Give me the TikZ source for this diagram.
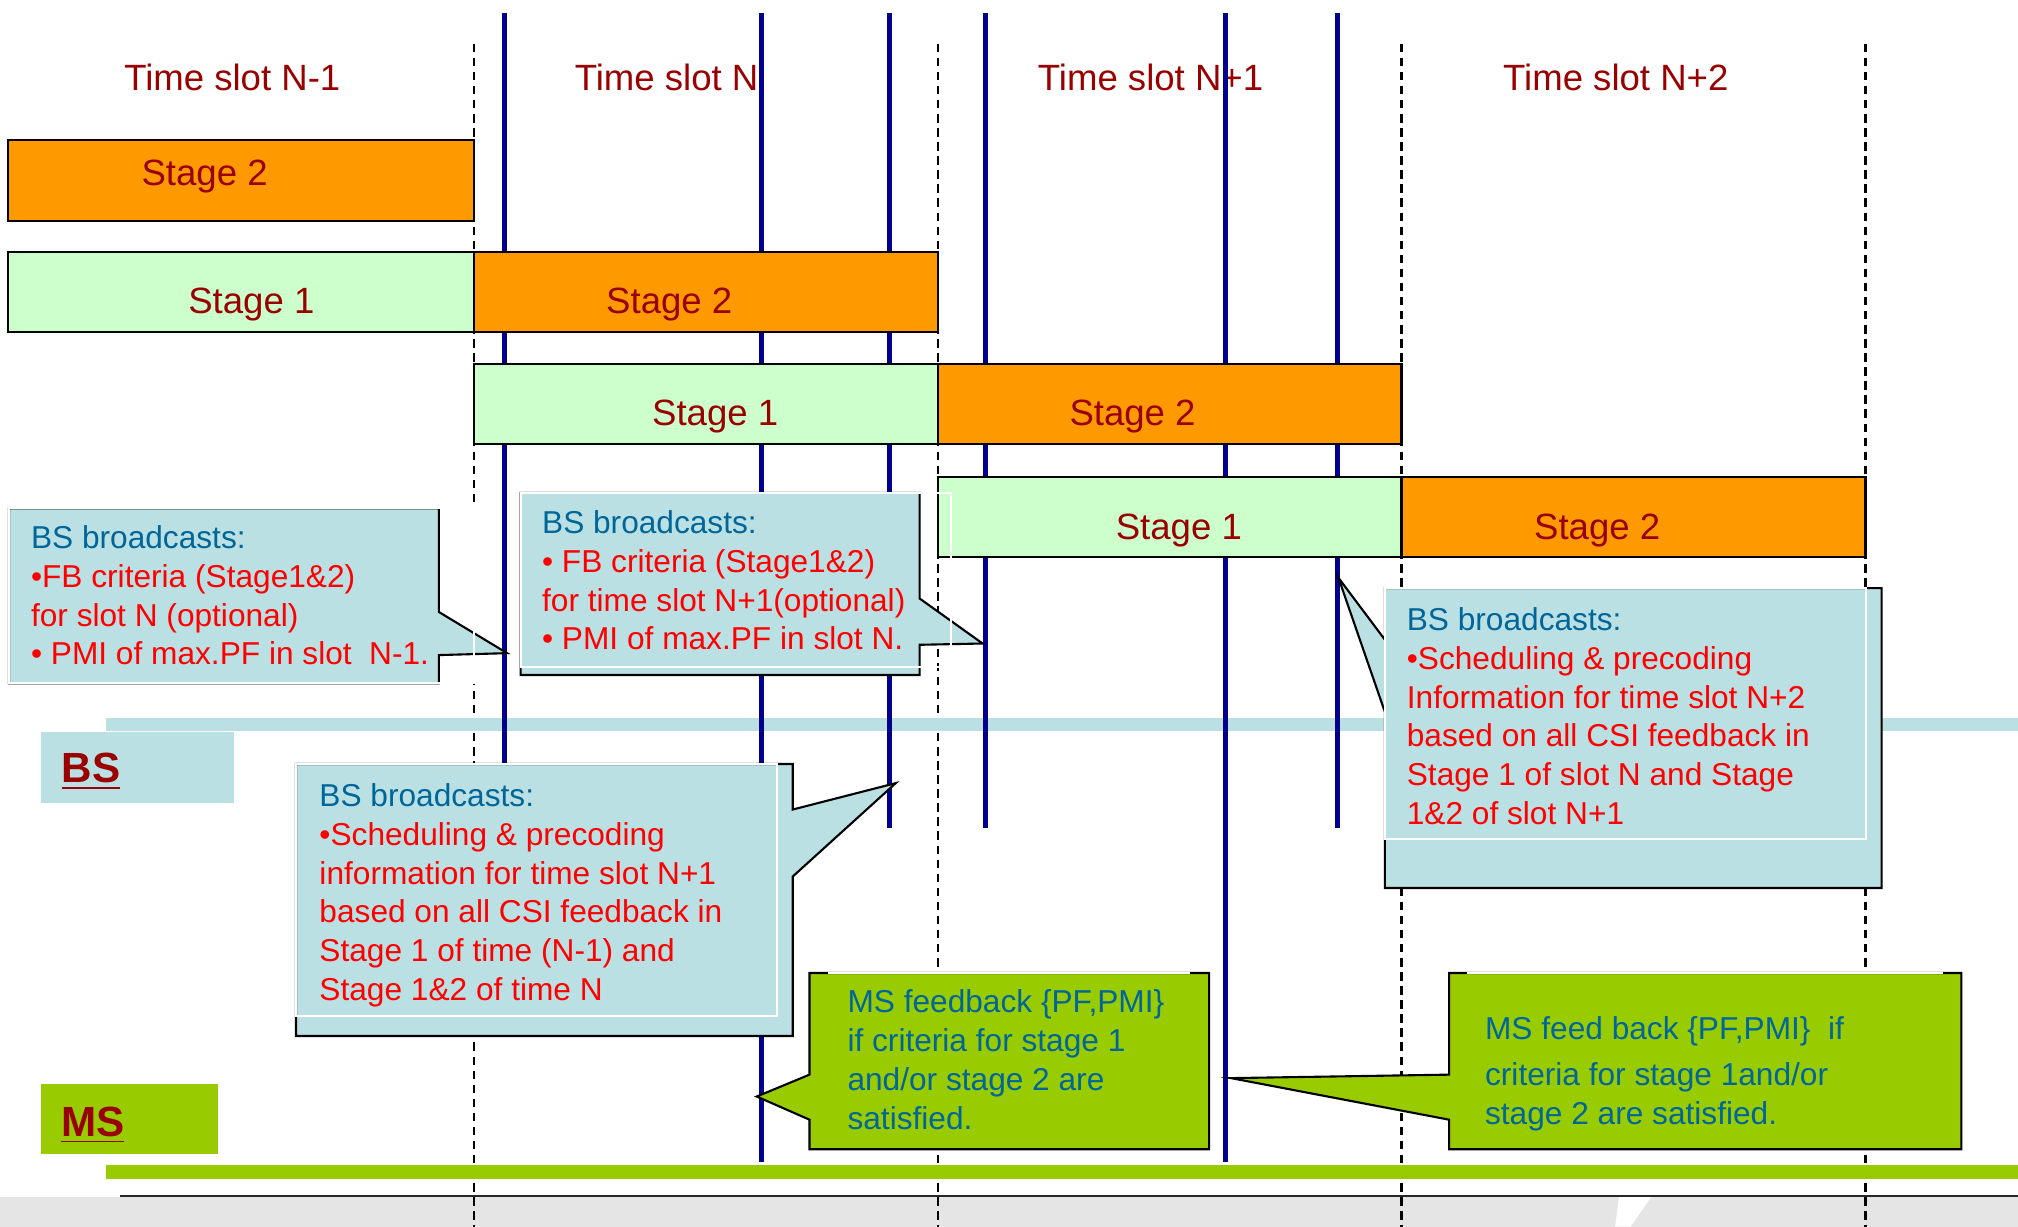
\documentclass[tikz,border=0pt]{standalone}
\usepackage{fontspec}
\setmainfont{Liberation Sans}
\definecolor{slotred}{RGB}{153,0,0}
\definecolor{slotnavy}{RGB}{0,0,140}
\definecolor{stageorange}{RGB}{255,153,0}
\definecolor{stagegreen}{RGB}{204,255,204}
\definecolor{bsfill}{RGB}{187,224,227}
\definecolor{msfill}{RGB}{153,204,0}
\definecolor{headblue}{RGB}{0,102,153}
\definecolor{footgray}{RGB}{229,229,229}

\begin{document}
\begin{tikzpicture}[
        x=0.01287cm, y=-0.01287cm,
        slot_label/.style={anchor=base, inner sep=0, text=slotred, font=\fontsize{10.4}{12}\selectfont},
        stage_label/.style={anchor=base, inner sep=0, text=slotred, font=\fontsize{10.4}{12}\selectfont},
        stage_one/.style={draw=black, line width=0.6pt, fill=stagegreen},
        stage_two/.style={draw=black, line width=0.6pt, fill=stageorange},
        slot_edge/.style={black, line width=0.6pt, dash pattern=on 2.4pt off 1.6pt},
        feedback_line/.style={slotnavy, line width=1.4pt},
        bs_callout/.style={draw=black, line width=0.6pt, fill=bsfill},
        ms_callout/.style={draw=black, line width=0.6pt, fill=msfill},
        text_frame/.style={draw=white, line width=0.6pt},
        callout_text/.style={anchor=north west, inner sep=0, align=left, text=red, font=\fontsize{9}{11}\selectfont},
        ms_text/.style={anchor=north west, inner sep=0, align=left, text=headblue, font=\fontsize{9}{11}\selectfont},
        side_label/.style={anchor=base west, inner sep=0, text=slotred, font=\fontsize{12}{14}\selectfont\bfseries}
    ]
        \useasboundingbox (0,0) rectangle (1568,953);

        % Footer of the slide
        \fill[footgray] (0,930) rectangle (1568,953);
        \fill[white] (1258,930) -- (1283,930) -- (1267,953) -- (1255,953) -- cycle;

        % Slot boundaries
        \draw[slot_edge] (368,34) -- (368,953);
        \draw[slot_edge] (728.5,34) -- (728.5,953);
        \draw[slot_edge] (1089,34) -- (1089,953);
        \draw[slot_edge] (1449.5,34) -- (1449.5,953);
        \draw[black!85, line width=0.6pt] (93.6,929.5) -- (1568,929.5);

        % BS and MS bands
        \fill[bsfill] (82,557.6) rectangle (1568,568);
        \fill[msfill] (82,905) rectangle (1568,916);

        % Time slot labels
        \node[slot_label] (slot_nm1) at (180.5,70.2) {Time slot N-1};
        \node[slot_label] (slot_n) at (518,70.2) {Time slot N};
        \node[slot_label] (slot_np1) at (894,70.2) {Time slot N+1};
        \node[slot_label] (slot_np2) at (1255.5,70.2) {Time slot N+2};

        % Signalling instants
        \draw[feedback_line] (392,10) -- (392,700);
        \draw[feedback_line] (592,10) -- (592,903);
        \draw[feedback_line] (691,10) -- (691,643);
        \draw[feedback_line] (765.5,10) -- (765.5,643);
        \draw[feedback_line] (952,10) -- (952,903);
        \draw[feedback_line] (1039.5,10) -- (1039.5,643);

        % Stage rows
        \draw[stage_two] (6.5,109) rectangle (368,171.5);
        \draw[stage_one] (6.5,196) rectangle (368,258);
        \draw[stage_two] (368,196) rectangle (728.5,258);
        \draw[stage_one] (368,283) rectangle (728.5,345);
        \draw[stage_two] (728.5,283) rectangle (1089,345);
        \draw[stage_one] (728.5,370.6) rectangle (1089,432.6);
        \draw[stage_two] (1089,370.6) rectangle (1449.5,432.6);

        \node[stage_label] (row1_s2) at (159,144) {Stage 2};
        \node[stage_label] (row2_s1) at (195.3,243.6) {Stage 1};
        \node[stage_label] (row2_s2) at (520,243.6) {Stage 2};
        \node[stage_label] (row3_s1) at (555.7,330.9) {Stage 1};
        \node[stage_label] (row3_s2) at (880,330.9) {Stage 2};
        \node[stage_label] (row4_s1) at (916,418.9) {Stage 1};
        \node[stage_label] (row4_s2) at (1241,418.9) {Stage 2};

        % BS callouts
        \draw[bs_callout] (7,395) -- (341,395) -- (341,475.5) -- (394,507.5) -- (341,509) -- (341,531) -- (7,531) -- cycle;
        \draw[text_frame] (7,395) rectangle (368,531);
        \node[callout_text] (bs_fb_n) at (23.6,408) {{\color{headblue}BS broadcasts:}\\•FB criteria (Stage1\&2)\\for slot N (optional)\\• PMI of max.PF in slot\ \ N-1.};

        \draw[bs_callout] (404.5,383) -- (714.5,383) -- (714.5,465) -- (763.5,500) -- (714.5,501) -- (714.5,524.5) -- (404.5,524.5) -- cycle;
        \draw[text_frame] (404.5,383) rectangle (739,518);
        \node[callout_text] (bs_fb_np1) at (420.7,396.3) {{\color{headblue}BS broadcasts:}\\• FB criteria (Stage1\&2)\\for time slot N+1(optional)\\• PMI of max.PF in slot N.};

        \draw[bs_callout] (230,593.6) -- (616,593.6) -- (616,629) -- (696,608.5) -- (616,681) -- (616,805) -- (230,805) -- cycle;
        \draw[text_frame] (230,593.6) rectangle (604,789.5);
        \node[callout_text] (bs_sched_np1) at (247.7,608.4) {{\color{headblue}BS broadcasts:}\\•Scheduling \& precoding\\information for time slot N+1\\based on all CSI feedback in\\Stage 1 of time (N-1) and\\Stage 1\&2 of time N};

        \draw[bs_callout] (1076,457) -- (1462,457) -- (1462,690) -- (1076,690) -- (1076,553) -- (1040,449) -- (1076,497) -- cycle;
        \draw[text_frame] (1076,457) rectangle (1450,652);
        \node[callout_text] (bs_sched_np2) at (1092.6,471.7) {{\color{headblue}BS broadcasts:}\\•Scheduling \& precoding\\Information for time slot N+2\\based on all CSI feedback in\\Stage 1 of slot N and Stage\\1\&2 of slot N+1};

        % MS callouts
        \draw[ms_callout] (629,756) -- (939.5,756) -- (939.5,893) -- (629,893) -- (629,870) -- (588,852) -- (629,835) -- cycle;
        \draw[text_frame] (643,756) -- (925,756);
        \node[ms_text] (ms_fb_n) at (658,768.7) {MS feedback \{PF,PMI\}\\if criteria for stage 1\\and/or stage 2 are\\satisfied.};

        \draw[ms_callout] (1126,756) -- (1524,756) -- (1524,893) -- (1126,893) -- (1126,870) -- (956.5,837.7) -- (1126,835) -- cycle;
        \draw[text_frame] (1140,756) -- (1510,756);
        \node[ms_text] (ms_fb_np1) at (1153.4,789.5) {MS feed back \{PF,PMI\}\ \ if\\[2pt]criteria for stage 1and/or\\stage 2 are satisfied.};

        % Side labels
        \fill[bsfill] (32,568.5) rectangle (182,623.7);
        \node[side_label] (bs_label) at (47.4,608) {\underline{BS}};
        \fill[msfill] (32,842) rectangle (169,897);
        \node[side_label] (ms_label) at (47,882.7) {\underline{MS}};

    \end{tikzpicture}
\end{document}
